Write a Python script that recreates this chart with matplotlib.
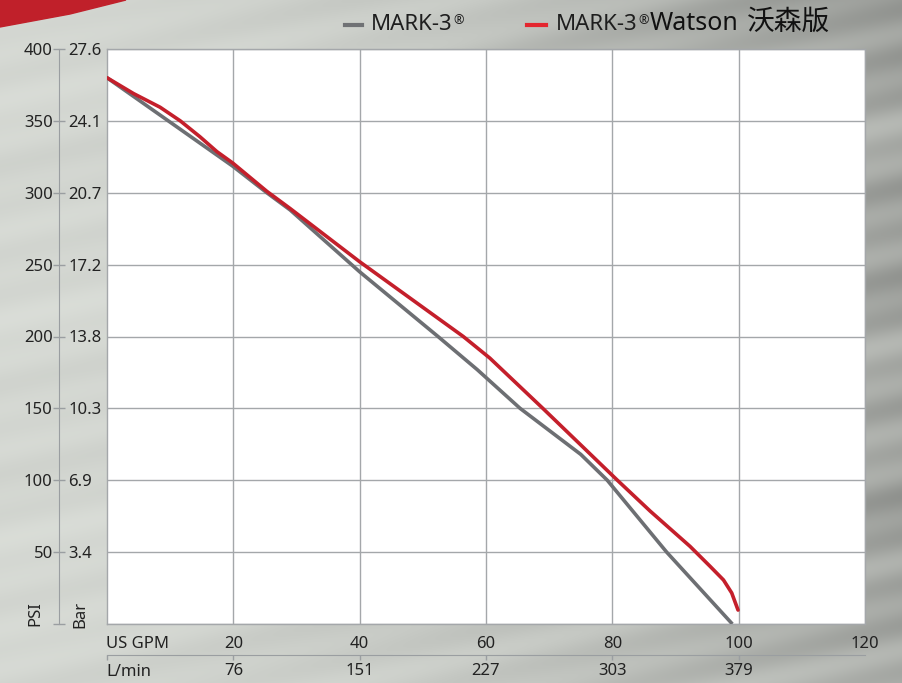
import numpy as np
import matplotlib
matplotlib.use("Agg")
import matplotlib.pyplot as plt
from matplotlib.patches import Polygon

plt.rcParams['font.family'] = ['Noto Sans', 'Noto Sans CJK SC', 'DejaVu Sans']

# データ
gpm_gray = [0, 19.9, 25.3, 29, 40, 52.4, 58.6, 65.4, 75, 79.2, 88.6, 99]
psi_gray = [380, 318.5, 300, 288, 245, 200, 177, 150, 118, 100, 50, 0]
gpm_red = [0, 4.2, 8.4, 11.6, 14.7, 17.4, 19.9, 25.3, 29, 40, 56.4, 60.6, 69, 80.8, 86,
           92.3, 95.5, 97.6, 98.9, 99.9]
psi_red = [380, 369, 359.5, 350, 339, 328.6, 320.7, 301, 289, 252, 200, 185, 150, 100, 78.5,
           54, 40, 30.6, 21.6, 9.7]

gpm_ticks = [20, 40, 60, 80, 100, 120]
lmin_ticks = [0, 20, 40, 60, 80, 100]
lmin_labels = ['', '76', '151', '227', '303', '379']
psi_ticks = [0, 50, 100, 150, 200, 250, 300, 350, 400]
psi_labels = ['', '50', '100', '150', '200', '250', '300', '350', '400']
bar_labels = ['', '3.4', '6.9', '10.3', '13.8', '17.2', '20.7', '24.1', '27.6']

series_names = ['MARK-3', 'MARK-3']
W, H = 902, 683
TXT = '#222222'
FS = 12

fig = plt.figure(figsize=(W / 100, H / 100), dpi=100)


def fx(x):
    return x / W


def fy(y):
    return 1 - y / H


# 背景（メタリック調のグラデーション）
bg = fig.add_axes([0, 0, 1, 1], zorder=0)
X, Y = np.meshgrid(np.arange(W), np.arange(H))
v = Y + 0.22 * X
amp = 0.5 + 1.3 * (X / W) ** 2
L = 0.845 - 0.2 * (X / W) ** 1.8 - 0.03 * np.exp(-((Y - 20) / 60.0) ** 2) * (X / W)
L = L + amp * (0.018 * np.sin(v / 7.0) + 0.015 * np.sin(v / 17.0 + 1.0) + 0.012 * np.sin(v / 41.0))
img = np.dstack([L * 0.985, L * 1.0, L * 0.975]).clip(0, 1)
bg.imshow(img, extent=[0, W, H, 0], aspect='auto')
bg.add_patch(Polygon([(0, 0), (126, 0), (70, 14), (0, 27)], closed=True, color='#c0202a'))
bg.set_xlim(0, W)
bg.set_ylim(H, 0)
bg.axis('off')

# メインのグラフ
ax = fig.add_axes([fx(107), fy(624), 758 / W, 575 / H], zorder=2)
ax.set_facecolor('white')
ax.plot(gpm_gray, psi_gray, color='#6d6f73', lw=2.6, solid_capstyle='butt', zorder=3)
ax.plot(gpm_red, psi_red, color='#c41f2b', lw=2.6, solid_capstyle='round',
        solid_joinstyle='round', zorder=4)
ax.set_xlim(0, 120)
ax.set_ylim(0, 400)
ax.grid(True, color='#a4a7aa', lw=1.0)
for s in ax.spines.values():
    s.set_color('#a4a7aa')
    s.set_linewidth(1.0)

# X軸（US GPM）
ax.set_xticks(gpm_ticks)
ax.set_xticklabels([str(t) for t in gpm_ticks], fontsize=FS, color=TXT)
ax.tick_params(axis='x', length=0, pad=9)
fig.text(fx(106), fy(644), 'US GPM', ha='left', va='center', fontsize=FS, color=TXT)

# X軸（L/min）
sec_x = ax.secondary_xaxis(-31 / 575)
sec_x.set_xticks(lmin_ticks)
sec_x.set_xticklabels(lmin_labels, fontsize=FS, color=TXT)
sec_x.tick_params(axis='x', direction='out', length=3.5, width=1, color='#9a9ea1', pad=2)
sec_x.spines['bottom'].set_color('#9a9ea1')
fig.text(fx(106), fy(672), 'L/min', ha='left', va='center', fontsize=FS, color=TXT)

# Y軸（Bar）
ax.set_yticks(psi_ticks)
ax.set_yticklabels(bar_labels, fontsize=FS, color=TXT)
ax.tick_params(axis='y', length=0, pad=28)
for lab in ax.get_yticklabels():
    lab.set_ha('left')

# Y軸（PSI）
sec_y = ax.secondary_yaxis(-48 / 758)
sec_y.set_yticks(psi_ticks)
sec_y.set_yticklabels(psi_labels, fontsize=FS, color=TXT)
sec_y.tick_params(axis='y', direction='inout', length=9, width=1, color='#9a9ea1', pad=0)
sec_y.spines['left'].set_color('#9a9ea1')

fig.text(fx(35), fy(614), 'PSI', rotation=90, ha='center', va='center', fontsize=FS, color=TXT)
fig.text(fx(80), fy(614), 'Bar', rotation=90, ha='center', va='center', fontsize=FS, color=TXT)

# 凡例
fig.lines.append(plt.Line2D([fx(345), fx(362)], [fy(25)] * 2, transform=fig.transFigure,
                            color='#707275', lw=3))
fig.lines.append(plt.Line2D([fx(527), fx(546)], [fy(25)] * 2, transform=fig.transFigure,
                            color='#e4262f', lw=3))

renderer = fig.canvas.get_renderer()


def put_after(prev, text, size, gap=0, rise=0, color='#1e1e1e'):
    # 前のテキストの右端に続けて配置（ベースラインを揃える）
    x_end = prev.get_window_extent(renderer).x1 / W
    t = fig.text(x_end + gap / W, fy(30) + rise / H, text, ha='left', va='baseline',
                 fontsize=size, color=color)
    return t


t1 = fig.text(fx(371), fy(30), series_names[0], ha='left', va='baseline', fontsize=16, color='#1e1e1e')
put_after(t1, '®', 9, gap=1, rise=6)
t2 = fig.text(fx(556), fy(30), series_names[1], ha='left', va='baseline', fontsize=16, color='#1e1e1e')
r2 = put_after(t2, '®', 9, gap=1, rise=6)
w2 = put_after(r2, 'Watson', 18, gap=1, color='#111111')
put_after(w2, '沃森版', 20, gap=8, color='#111111')

fig.savefig('out.png', dpi=100)
